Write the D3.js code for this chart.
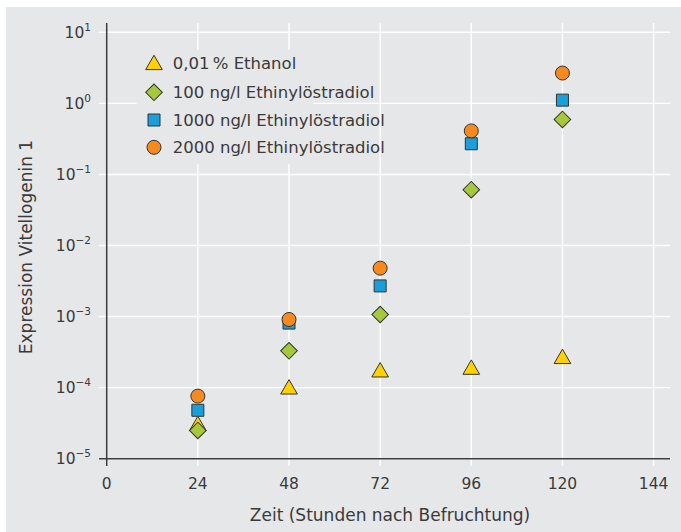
<!DOCTYPE html>
<html>
<head>
<meta charset="utf-8">
<script src="https://cdn.jsdelivr.net/npm/d3@7"></script>
<style>
  html, body { margin: 0; padding: 0; background: #ffffff; }
  svg { display: block; }
  text { font-family: "DejaVu Sans", "Liberation Sans", sans-serif; fill: #3a3a3a; }
</style>
</head>
<body>
<svg id="chart" width="681" height="532"></svg>
<script>
// Sampling times (hours post fertilisation)
const hours = [24, 48, 72, 96, 120];

// Vitellogenin 1 expression per treatment
const ethanol = [2.9e-5, 9.5e-5, 1.65e-4, 1.8e-4, 2.55e-4];
const ee100   = [2.5e-5, 3.3e-4, 1.07e-3, 0.061, 0.595];
const ee1000  = [4.8e-5, 8.1e-4, 2.7e-3, 0.27, 1.11];
const ee2000  = [7.6e-5, 9.1e-4, 4.8e-3, 0.41, 2.67];

const seriesNames = [
  "0,01\u2009% Ethanol",
  "100 ng/l Ethinylöstradiol",
  "1000 ng/l Ethinylöstradiol",
  "2000 ng/l Ethinylöstradiol"
];
const seriesValues = [ethanol, ee100, ee1000, ee2000];
const seriesColors = ["#ffd200", "#a6c93b", "#1a9fdb", "#f78a1f"];
const seriesShapes = ["triangle", "diamond", "square", "circle"];

const xTicks = [0, 24, 48, 72, 96, 120, 144];
const yExponents = [-5, -4, -3, -2, -1, 0, 1];

const xTitle = "Zeit (Stunden nach Befruchtung)";
const yTitle = "Expression Vitellogenin 1";

const svg = d3.select("#chart");
const bg = "#e6e7e9";

// panel background
svg.append("rect").attr("x", 6).attr("y", 7).attr("width", 675).attr("height", 525).attr("fill", bg);

const x = d3.scaleLinear().domain([0, 144]).range([106.7, 653.6]);
const y = d3.scaleLog().domain([1e-5, 10]).range([458.7, 32.3]);

const gridTop = 23, gridBottom = 466, gridLeft = 99, gridRight = 670;

// grid lines
svg.append("g").selectAll("line").data(yExponents).join("line")
  .attr("x1", gridLeft).attr("x2", gridRight)
  .attr("y1", d => y(Math.pow(10, d))).attr("y2", d => y(Math.pow(10, d)))
  .attr("stroke", "#ffffff").attr("stroke-width", 1.4);
svg.append("g").selectAll("line").data(xTicks.slice(1)).join("line")
  .attr("x1", d => x(d)).attr("x2", d => x(d))
  .attr("y1", gridTop).attr("y2", gridBottom)
  .attr("stroke", "#ffffff").attr("stroke-width", 1.4);

// legend backdrop
svg.append("rect").attr("x", 136.7).attr("y", 50).attr("width", 176.5).attr("height", 114).attr("fill", bg);

// axes
svg.append("line").attr("x1", x(0)).attr("x2", x(0)).attr("y1", gridTop).attr("y2", gridBottom)
  .attr("stroke", "#3c3c3c").attr("stroke-width", 1.5);
svg.append("line").attr("x1", gridLeft).attr("x2", gridRight).attr("y1", y(1e-5)).attr("y2", y(1e-5))
  .attr("stroke", "#3c3c3c").attr("stroke-width", 1.5);

// x tick labels
svg.append("g").selectAll("text").data(xTicks).join("text")
  .attr("x", d => x(d)).attr("y", 488.5)
  .attr("text-anchor", "middle").attr("font-size", 15.5)
  .text(d => d);

// y tick labels as powers of ten
const yl = svg.append("g").selectAll("text").data(yExponents).join("text")
  .attr("x", 91).attr("y", d => y(Math.pow(10, d)) + 5.5)
  .attr("text-anchor", "end").attr("font-size", 15.5);
yl.append("tspan").text("10");
yl.append("tspan").attr("dy", -7).attr("font-size", 10.5)
  .text(d => (d < 0 ? "\u2212" + Math.abs(d) : String(d)));

// axis titles
svg.append("text").attr("x", 390).attr("y", 521).attr("text-anchor", "middle")
  .attr("font-size", 17).text(xTitle);
svg.append("text").attr("transform", "translate(31.5,247) rotate(-90)")
  .attr("text-anchor", "middle").attr("font-size", 17).text(yTitle);

// marker shapes
function shapePath(kind) {
  if (kind === "triangle") return d3.symbol().type(d3.symbolTriangle).size(120)();
  if (kind === "square") return d3.symbol().type(d3.symbolSquare).size(144)();
  if (kind === "circle") return d3.symbol().type(d3.symbolCircle).size(154)();
  return d3.symbol().type(d3.symbolSquare).size(138)();
}
function shapeTransform(kind, cx, cy) {
  return kind === "diamond" ? `translate(${cx},${cy}) rotate(45)` : `translate(${cx},${cy})`;
}

// data points
seriesValues.forEach((vals, i) => {
  svg.append("g").selectAll("path").data(hours.map((h, j) => ({ h, v: vals[j] }))).join("path")
    .attr("d", shapePath(seriesShapes[i]))
    .attr("transform", d => shapeTransform(seriesShapes[i], x(d.h), y(d.v)))
    .attr("fill", seriesColors[i]).attr("stroke", "#333333").attr("stroke-width", 1);
});

// legend
const legendRows = [63.3, 92.3, 120, 147.3];
seriesNames.forEach((name, i) => {
  svg.append("path").attr("d", shapePath(seriesShapes[i]))
    .attr("transform", shapeTransform(seriesShapes[i], 154, legendRows[i] + (seriesShapes[i] === "triangle" ? 1.5 : 0)))
    .attr("fill", seriesColors[i]).attr("stroke", "#333333").attr("stroke-width", 1);
  svg.append("text").attr("x", 172.7).attr("y", legendRows[i] + 6)
    .attr("font-size", 16.5).text(name);
});
</script>
</body>
</html>
